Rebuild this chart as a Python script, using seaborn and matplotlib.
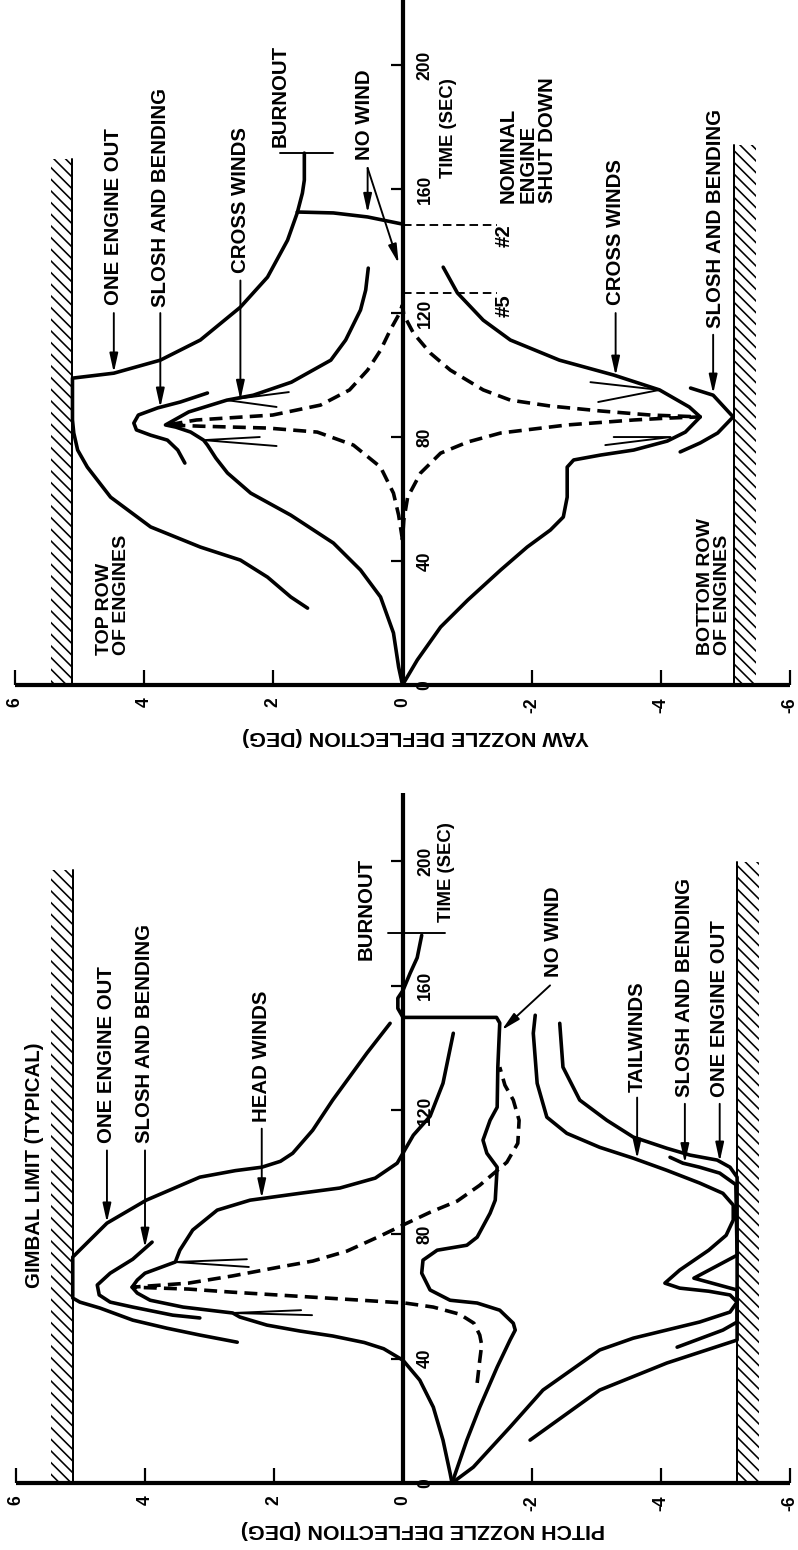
import matplotlib
matplotlib.use("Agg")
import matplotlib.pyplot as plt
import seaborn as sns

# ---------------------------------------------------------------- data
# deflection in degrees (x), time in seconds (y); figure is printed rotated
DEFL_TICKS = [6, 4, 2, 0, -2, -4, -6]
DEFL_LABELS = ["6", "4", "2", "0", "-2", "-4", "-6"]
TIME_TICKS = [0, 40, 80, 120, 160, 200]
TIME_LABELS = ["0", "40", "80", "120", "160", "200"]

# ---- YAW panel
YAW_LIMITS = [5.11, -5.14]
YAW_LIMIT_TOPS = [169.7, 174.2]

YAW_OEO_D = [1.47, 1.73, 2.09, 2.51, 3.13, 3.90, 4.52, 4.88, 5.03, 5.09, 5.11, 5.11,
             4.47, 3.75, 3.13, 2.51, 2.09, 1.78, 1.63, 1.55, 1.52, 1.52]
YAW_OEO_T = [24.8, 28.4, 34.8, 40.3, 44.5, 51.0, 60.6, 70.3, 75.8, 81.3, 85.5, 99.0,
             100.6, 104.8, 111.3, 121.9, 131.6, 143.5, 152.3, 158.7, 162.9, 171.6]
YAW_SHUT_D = [1.63, 1.07, 0.54, 0.0]
YAW_SHUT_T = [152.6, 152.3, 151.0, 148.7]

YAW_SLOSH_UP_D = [3.37, 3.48, 3.64, 3.90, 4.12, 4.16, 4.09, 3.79, 3.44, 3.02]
YAW_SLOSH_UP_T = [71.6, 75.8, 79.0, 80.6, 82.3, 84.5, 87.1, 89.4, 91.3, 94.2]

YAW_XW_UP_D = [0.0, 0.06, 0.14, 0.34, 0.65, 1.07, 1.73, 2.35, 2.71, 2.89, 3.02, 3.08,
               3.28, 3.51, 3.67, 3.31, 2.72, 2.31, 1.72, 1.11, 0.88, 0.65, 0.57, 0.53]
YAW_XW_UP_T = [0.0, 5.8, 16.8, 28.4, 37.1, 45.8, 54.8, 61.9, 68.4, 73.2, 77.4, 79.0,
               81.6, 83.2, 83.9, 88.1, 91.9, 93.5, 97.7, 104.8, 111.3, 121.0, 127.4, 134.5]

YAW_XW_LO_D = [0.0, -0.23, -0.59, -1.01, -1.52, -1.93, -2.29, -2.49, -2.55, -2.55, -2.65, -3.07,
               -3.58, -4.10, -4.38, -4.61, -4.44, -3.98, -3.27, -2.43, -1.67, -1.25, -0.85, -0.63]
YAW_XW_LO_T = [0.0, 8.1, 18.7, 27.4, 37.1, 44.5, 50.0, 54.2, 60.6, 70.3, 72.6, 74.2,
               75.8, 78.7, 81.6, 86.5, 89.7, 95.2, 100.0, 104.8, 111.3, 117.7, 126.5, 134.8]

YAW_SLOSH_LO_D = [-4.46, -4.81, -5.12, -4.88, -4.61, -4.30]
YAW_SLOSH_LO_T = [95.8, 93.5, 86.5, 81.3, 78.1, 75.2]

YAW_NOWIND_D = [0.0, 0.06, 0.14, 0.34, 0.76, 1.32, 2.09, 3.13, 3.64,
                3.19, 2.01, 1.27, 0.82, 0.54, 0.34, 0.19, 0.06, 0.0,
                -0.02, -0.17, -0.43, -0.74, -1.25, -1.67, -2.29, -3.07, -3.84, -4.61,
                -4.10, -3.58, -2.55, -1.52, -1.01, -0.59, -0.28, -0.08, -0.02, 0.0]
YAW_NOWIND_T = [46.8, 54.8, 61.9, 70.3, 77.4, 81.6, 82.9, 83.5, 83.9,
                85.5, 87.1, 90.3, 95.2, 101.6, 108.0, 114.5, 119.4, 122.6,
                119.4, 113.5, 107.1, 101.6, 95.2, 91.9, 90.0, 88.4, 87.1, 86.5,
                86.1, 85.5, 83.9, 81.3, 78.4, 74.8, 68.4, 60.6, 53.2, 46.8]

YAW_FEATHER_1_D = [1.76, 2.72, 1.95]
YAW_FEATHER_1_T = [94.5, 91.9, 89.7]
YAW_FEATHER_2_D = [2.21, 3.08, 1.95]
YAW_FEATHER_2_T = [80.0, 79.0, 77.1]
YAW_FEATHER_3_D = [-2.91, -3.98, -3.03]
YAW_FEATHER_3_T = [97.7, 95.2, 91.3]
YAW_FEATHER_4_D = [-3.27, -4.15, -3.14]
YAW_FEATHER_4_T = [80.0, 80.0, 77.4]

YAW_BURNOUT_D = [1.89, 1.07]
YAW_BURNOUT_T = [171.6, 171.6]
YAW_NOMINAL_SHUTDOWN_T = [148.4, 126.5]
YAW_NOMINAL_SHUTDOWN_D = [0.0, -1.47]

# ---- PITCH panel
PITCH_LIMITS = [5.12, -5.18]
PITCH_LIMIT_TOPS = [197.1, 199.7]

PITCH_OEO_UP_D = [2.57, 3.15, 3.66, 4.19, 4.70, 5.01, 5.12, 5.12, 4.59, 3.98, 3.15, 2.60,
                  2.19, 1.90, 1.71, 1.40, 1.09, 0.56, 0.20]
PITCH_OEO_UP_T = [45.3, 47.6, 49.8, 52.4, 56.3, 58.2, 59.5, 72.7, 83.6, 91.0, 98.4, 100.5,
                  101.6, 103.5, 106.1, 113.5, 123.2, 138.3, 147.9]

PITCH_SLOSH_UP_D = [3.15, 3.57, 4.19, 4.54, 4.71, 4.74, 4.54, 4.19, 3.89]
PITCH_SLOSH_UP_T = [53.1, 54.0, 56.6, 58.2, 60.5, 63.7, 67.5, 72.0, 77.5]

PITCH_HEAD_D = [-0.76, -0.73, -0.62, -0.47, -0.26, 0.0, 0.30, 0.60, 1.09, 1.60, 2.11, 2.53,
                2.64, 3.41, 3.92, 4.12, 4.20, 4.12, 4.00, 3.53, 3.46, 3.26, 2.88, 2.37,
                1.60, 0.98, 0.43, 0.09, -0.16, -0.42, -0.62, -0.78]
PITCH_HEAD_T = [0.0, 3.2, 13.8, 24.4, 33.1, 39.5, 43.2, 45.2, 47.3, 48.9, 50.8, 53.4,
                54.7, 56.6, 58.8, 61.1, 63.0, 65.3, 67.5, 71.1, 74.9, 81.4, 87.8, 91.0,
                93.2, 94.9, 98.1, 102.9, 111.9, 118.0, 128.6, 144.7]

PITCH_NOWIND_D = [-0.76, -0.99, -1.19, -1.46, -1.66, -1.74, -1.71, -1.50, -1.15, -0.73,
                  -0.42, -0.29, -0.31, -0.53, -0.99, -1.15, -1.35, -1.43, -1.46, -1.30,
                  -1.24, -1.35, -1.46, -1.47, -1.50, -1.45, 0.0, 0.08, 0.08, 0.0,
                  -0.11, -0.22, -0.29]
PITCH_NOWIND_T = [0.0, 13.8, 24.4, 37.3, 46.0, 49.2, 51.4, 55.6, 57.9, 58.8,
                  62.1, 67.5, 71.7, 74.9, 76.5, 79.1, 86.8, 91.0, 101.6, 106.1,
                  110.3, 116.7, 120.9, 133.8, 148.0, 149.8, 149.8, 152.7, 156.0, 158.5,
                  164.0, 169.0, 176.2]

PITCH_NOWIND_DASH_D = [-1.15, -1.19, -1.22, -1.19, -1.10, -0.88, -0.47, -0.03, 0.64, 1.64,
                       2.65, 3.33, 4.20, 3.33, 2.65, 1.91, 1.40, 0.87, 0.36, 0.0,
                       -0.42, -0.84, -1.19, -1.61, -1.78, -1.80, -1.71, -1.58, -1.50]
PITCH_NOWIND_DASH_T = [32.2, 39.5, 44.4, 47.6, 51.4, 54.3, 56.6, 57.9, 58.8, 60.1,
                       61.4, 62.4, 63.0, 64.3, 66.6, 69.5, 71.4, 74.6, 79.4, 83.0,
                       87.1, 90.7, 95.8, 103.2, 109.3, 116.7, 123.2, 128.0, 133.8]

PITCH_TAIL_D = [-0.76, -1.09, -1.66, -2.17, -3.05, -3.57, -4.60, -5.07, -5.18, -5.07,
                -4.74, -4.29, -4.06, -4.29, -4.74, -5.01, -5.12, -5.12, -4.96, -4.60,
                -4.09, -3.57, -3.05, -2.54, -2.23, -2.08, -2.02, -2.05]
PITCH_TAIL_T = [0.0, 5.1, 18.0, 29.9, 42.8, 46.6, 51.8, 55.0, 58.2, 60.5,
                61.7, 62.7, 64.3, 68.5, 74.9, 79.7, 84.6, 89.4, 93.2, 96.5,
                100.6, 104.5, 108.0, 112.5, 117.7, 128.6, 144.7, 150.5]

PITCH_OEO_LO_D = [-1.97, -3.05, -4.09, -5.18, -5.18, -5.07, -4.87, -4.45, -4.09, -3.57,
                  -3.16, -2.74, -2.48, -2.43]
PITCH_OEO_LO_T = [13.8, 29.9, 38.6, 46.0, 98.4, 101.6, 103.9, 105.5, 107.7, 111.3,
                  116.7, 123.2, 133.8, 147.9]

PITCH_SLOSH_LO_D = [-4.25, -4.96, -5.18, -5.18, -4.51, -5.18, -5.16, -4.91, -4.60, -4.34, -4.14]
PITCH_SLOSH_LO_T = [43.7, 49.2, 51.8, 62.1, 65.9, 73.3, 96.0, 99.7, 101.6, 102.9, 104.8]

PITCH_FEATHER_1_D = [2.42, 3.53, 2.39]
PITCH_FEATHER_1_T = [72.0, 71.1, 69.5]
PITCH_FEATHER_2_D = [1.58, 2.64, 1.41]
PITCH_FEATHER_2_T = [55.6, 54.7, 54.0]

PITCH_BURNOUT_D = [0.23, -0.65]
PITCH_BURNOUT_T = [176.8, 176.8]

# ---------------------------------------------------------------- style / layout
DPI = 70


def px(v):
    return v * 72.0 / DPI


LW_CURVE = px(3.6)
LW_THIN = px(1.9)
LW_SPINE = px(4.2)
HATCH_W = 0.34
FS_NOTE = 21
FS_TICK = 18
FS_LABEL = 22

sns.set_theme(style="white")
plt.rcParams["font.family"] = ["Liberation Sans", "DejaVu Sans"]
plt.rcParams["font.weight"] = "bold"
plt.rcParams["hatch.linewidth"] = px(1.6)
plt.rcParams["hatch.color"] = "black"
plt.rcParams["axes.unicode_minus"] = False

fig = plt.figure(figsize=(11.4, 22.1429), dpi=DPI)
fig.patch.set_facecolor("white")
ax_yaw = fig.add_axes([15 / 798, (1550 - 685) / 1550, 775 / 798, 685 / 1550])
ax_pitch = fig.add_axes([16 / 798, (1550 - 1483) / 1550, 774 / 798, 690 / 1550])


def line(ax, d, t, lw=LW_CURVE, dashed=False, ls=None):
    kws = dict(solid_capstyle="round", solid_joinstyle="round", dash_capstyle="butt")
    if dashed:
        kws["linestyle"] = (0, (3.6, 2.0))
    elif ls is not None:
        kws["linestyle"] = ls
    sns.lineplot(x=d, y=t, sort=False, estimator=None, ax=ax, color="black",
                 linewidth=lw, legend=False, **kws)


def setup(ax, ttop, limits, tops, xlabel, label_xy):
    ax.set_facecolor("white")
    ax.set_xlim(6, -6)
    ax.set_ylim(0, ttop)
    ax.grid(False)
    ax.spines["top"].set_visible(False)
    ax.spines["right"].set_position(("data", 0))
    ax.spines["right"].set_visible(False)
    ax.spines["left"].set_position(("data", 0))
    for s in ("left", "bottom"):
        ax.spines[s].set_color("black")
        ax.spines[s].set_linewidth(LW_SPINE)
        ax.spines[s].set_capstyle("butt")
    ax.set_xticks(DEFL_TICKS)
    ax.set_xticklabels(DEFL_LABELS, rotation=90, ha="center", va="top",
                       fontsize=FS_TICK, fontweight="bold")
    ax.tick_params(axis="x", direction="in", length=px(15), width=px(2.2),
                   pad=px(12), color="black", labelcolor="black", bottom=True, top=False)
    ax.set_yticks(TIME_TICKS)
    ax.set_yticklabels(TIME_LABELS, rotation=90, ha="left", va="center",
                       fontsize=FS_TICK, fontweight="bold")
    ax.tick_params(axis="y", direction="out", length=px(12), width=px(2.2), pad=px(2),
                   color="black", labelcolor="black", left=True, right=False,
                   labelleft=False, labelright=True)
    ax.set_xlabel(xlabel, rotation=180, fontsize=FS_LABEL, fontweight="bold", color="black")
    ax.xaxis.set_label_coords(*label_xy)
    ax.set_ylabel("")
    # gimbal limits with hatching outside
    for lim, top in zip(limits, tops):
        sgn = 1 if lim > 0 else -1
        ax.fill_betweenx([0, top], lim, lim + sgn * HATCH_W, facecolor="none",
                         edgecolor="black", hatch="\\\\", linewidth=0)
        line(ax, [lim, lim], [0, top], lw=px(2.0))


def note(ax, s, d, t, fs=FS_NOTE, ls=1.15):
    ax.text(d, t, s, rotation=90, ha="center", va="bottom", fontsize=fs,
            fontweight="bold", color="black", linespacing=ls, multialignment="left")


def arrow(ax, tail, tip):
    ax.annotate("", xy=tip, xytext=tail,
                arrowprops=dict(arrowstyle="-|>,head_length=0.9,head_width=0.2",
                                color="black", lw=LW_THIN, shrinkA=0, shrinkB=0,
                                mutation_scale=18))


# ---------------------------------------------------------------- YAW
ax = ax_yaw
setup(ax, 221, YAW_LIMITS, YAW_LIMIT_TOPS, "YAW NOZZLE DEFLECTION (DEG)", (0.5174, -0.061))
line(ax, YAW_OEO_D, YAW_OEO_T)
line(ax, YAW_SHUT_D, YAW_SHUT_T)
line(ax, YAW_SLOSH_UP_D, YAW_SLOSH_UP_T)
line(ax, YAW_XW_UP_D, YAW_XW_UP_T)
line(ax, YAW_XW_LO_D, YAW_XW_LO_T)
line(ax, YAW_SLOSH_LO_D, YAW_SLOSH_LO_T)
line(ax, YAW_NOWIND_D, YAW_NOWIND_T, dashed=True)
for fd, ft in ((YAW_FEATHER_1_D, YAW_FEATHER_1_T), (YAW_FEATHER_2_D, YAW_FEATHER_2_T),
               (YAW_FEATHER_3_D, YAW_FEATHER_3_T), (YAW_FEATHER_4_D, YAW_FEATHER_4_T)):
    line(ax, fd, ft, lw=LW_THIN)
line(ax, YAW_BURNOUT_D, YAW_BURNOUT_T, lw=LW_THIN)
for ts in YAW_NOMINAL_SHUTDOWN_T:
    line(ax, YAW_NOMINAL_SHUTDOWN_D, [ts, ts], lw=LW_THIN, ls=(0, (4.5, 2.5)))

note(ax, "ONE ENGINE OUT", 4.47, 122.5)
note(ax, "SLOSH AND BENDING", 3.75, 122.0)
note(ax, "CROSS WINDS", 2.51, 133.0)
note(ax, "BURNOUT", 1.89, 173.5)
note(ax, "NO WIND", 0.59, 169.4)
note(ax, "TIME (SEC)", -0.71, 163.5, fs=FS_TICK + 1)
note(ax, "NOMINAL\nENGINE\nSHUT DOWN", -1.94, 155.5, ls=1.05)
note(ax, "#2", -1.58, 141.3)
note(ax, "#5", -1.58, 118.7)
note(ax, "CROSS WINDS", -3.30, 122.6)
note(ax, "SLOSH AND BENDING", -4.85, 115.2)
note(ax, "TOP ROW\nOF ENGINES", 4.49, 9.7, fs=20, ls=1.0)
note(ax, "BOTTOM ROW\nOF ENGINES", -4.83, 9.7, fs=20, ls=1.0)

arrow(ax, (4.47, 120.0), (4.47, 100.8))
arrow(ax, (3.75, 120.0), (3.75, 89.5))
arrow(ax, (2.51, 130.5), (2.51, 92.0))
arrow(ax, (0.54, 166.8), (0.54, 152.3))
arrow(ax, (0.54, 166.8), (0.06, 136.0))
arrow(ax, (-3.30, 120.0), (-3.30, 99.8))
arrow(ax, (-4.81, 113.0), (-4.81, 94.0))

# ---------------------------------------------------------------- PITCH
ax = ax_pitch
setup(ax, 222, PITCH_LIMITS, PITCH_LIMIT_TOPS, "PITCH NOZZLE DEFLECTION (DEG)", (0.526, -0.0536))
line(ax, PITCH_OEO_UP_D, PITCH_OEO_UP_T)
line(ax, PITCH_SLOSH_UP_D, PITCH_SLOSH_UP_T)
line(ax, PITCH_HEAD_D, PITCH_HEAD_T)
line(ax, PITCH_NOWIND_D, PITCH_NOWIND_T)
line(ax, PITCH_NOWIND_DASH_D, PITCH_NOWIND_DASH_T, dashed=True)
line(ax, PITCH_TAIL_D, PITCH_TAIL_T)
line(ax, PITCH_OEO_LO_D, PITCH_OEO_LO_T)
line(ax, PITCH_SLOSH_LO_D, PITCH_SLOSH_LO_T)
for fd, ft in ((PITCH_FEATHER_1_D, PITCH_FEATHER_1_T), (PITCH_FEATHER_2_D, PITCH_FEATHER_2_T)):
    line(ax, fd, ft, lw=LW_THIN)
line(ax, PITCH_BURNOUT_D, PITCH_BURNOUT_T, lw=LW_THIN)

note(ax, "GIMBAL LIMIT (TYPICAL)", 5.71, 62.7)
note(ax, "ONE ENGINE OUT", 4.59, 109.3)
note(ax, "SLOSH AND BENDING", 4.00, 109.3)
note(ax, "HEAD WINDS", 2.19, 116.1)
note(ax, "BURNOUT", 0.57, 168.2)
note(ax, "TIME (SEC)", -0.67, 180.4, fs=FS_TICK + 1)
note(ax, "NO WIND", -2.33, 162.7)
note(ax, "TAILWINDS", -3.63, 125.7)
note(ax, "SLOSH AND BENDING", -4.37, 124.1)
note(ax, "ONE ENGINE OUT", -4.91, 124.1)

arrow(ax, (4.59, 107.0), (4.59, 83.8))
arrow(ax, (4.00, 107.0), (4.00, 75.7))
arrow(ax, (2.19, 114.0), (2.19, 91.6))
arrow(ax, (-2.28, 160.1), (-1.53, 145.7))
arrow(ax, (-3.63, 124.0), (-3.63, 104.3))
arrow(ax, (-4.37, 122.0), (-4.37, 102.9))
arrow(ax, (-4.91, 122.0), (-4.91, 103.4))

fig.savefig("out.png", dpi=DPI, facecolor="white")
